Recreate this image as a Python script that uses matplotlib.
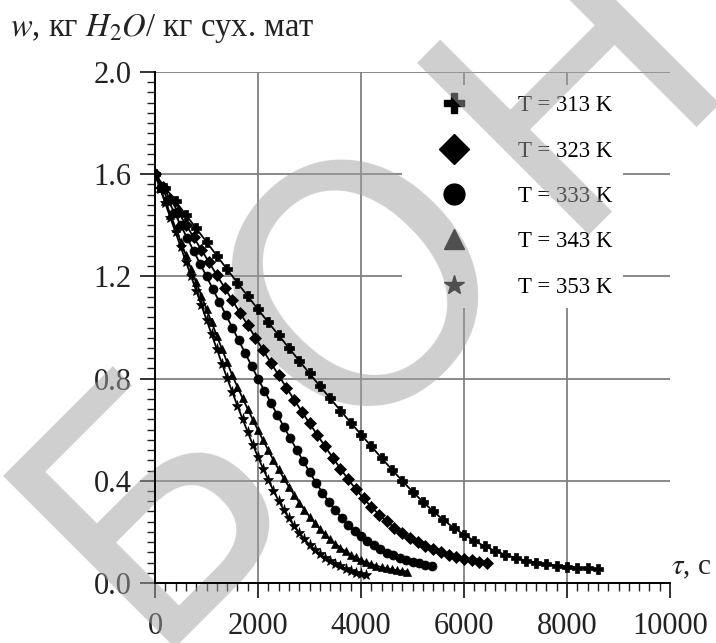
import numpy as np
import matplotlib
matplotlib.use("Agg")
import matplotlib.pyplot as plt
from matplotlib.lines import Line2D

plt.rcParams['font.family'] = ['Liberation Serif', 'DejaVu Serif']
plt.rcParams['mathtext.fontset'] = 'stix'

# drying curves, moisture w at each marker
t_313 = np.arange(0, 8601, 200)
w_313 = [1.600, 1.547, 1.494, 1.441, 1.388, 1.335, 1.281, 1.228, 1.175, 1.123,
         1.071, 1.020, 0.970, 0.920, 0.870, 0.820, 0.771, 0.723, 0.675, 0.628,
         0.581, 0.535, 0.489, 0.444, 0.400, 0.358, 0.318, 0.281, 0.247, 0.216,
         0.189, 0.165, 0.144, 0.126, 0.111, 0.098, 0.088, 0.080, 0.073, 0.068,
         0.063, 0.060, 0.057, 0.055]

t_323 = np.arange(0, 6451, 150)
w_323 = [1.600, 1.551, 1.501, 1.452, 1.403, 1.353, 1.304, 1.255, 1.205, 1.156,
         1.107, 1.058, 1.009, 0.960, 0.911, 0.862, 0.813, 0.765, 0.718, 0.671,
         0.625, 0.580, 0.535, 0.491, 0.448, 0.406, 0.367, 0.331, 0.298, 0.268,
         0.241, 0.217, 0.196, 0.177, 0.160, 0.145, 0.132, 0.121, 0.111, 0.102,
         0.095, 0.089, 0.084, 0.080]

t_333 = np.arange(0, 5376, 125)
w_333 = [1.600, 1.550, 1.500, 1.450, 1.400, 1.350, 1.300, 1.250, 1.200, 1.150,
         1.100, 1.050, 1.000, 0.950, 0.900, 0.850, 0.800, 0.752, 0.705, 0.658,
         0.612, 0.567, 0.522, 0.478, 0.435, 0.393, 0.354, 0.318, 0.285, 0.255,
         0.228, 0.204, 0.183, 0.164, 0.147, 0.132, 0.119, 0.108, 0.098, 0.090,
         0.083, 0.077, 0.072, 0.068]

t_343 = np.arange(0, 4901, 100)
w_343 = [1.600, 1.547, 1.494, 1.442, 1.389, 1.336, 1.283, 1.230, 1.178, 1.125,
         1.072, 1.020, 0.968, 0.916, 0.864, 0.813, 0.768, 0.724, 0.681, 0.639,
         0.598, 0.558, 0.519, 0.481, 0.445, 0.410, 0.377, 0.345, 0.315, 0.287,
         0.260, 0.235, 0.212, 0.191, 0.172, 0.154, 0.138, 0.124, 0.111, 0.100,
         0.090, 0.081, 0.074, 0.067, 0.062, 0.057, 0.053, 0.050, 0.047, 0.045]

t_353 = np.arange(0, 4101, 100)
w_353 = [1.600, 1.543, 1.486, 1.429, 1.372, 1.315, 1.258, 1.201, 1.144, 1.087,
         1.030, 0.973, 0.916, 0.859, 0.802, 0.748, 0.694, 0.642, 0.591, 0.541,
         0.493, 0.447, 0.403, 0.361, 0.322, 0.286, 0.253, 0.223, 0.196, 0.172,
         0.150, 0.131, 0.114, 0.099, 0.086, 0.075, 0.065, 0.056, 0.048, 0.041,
         0.035, 0.030]

labels = ["T = 313 K", "T = 323 K", "T = 333 K", "T = 343 K", "T = 353 K"]
markers = ["P", "D", "o", "^", "*"]
series = [(t_313, w_313), (t_323, w_323), (t_333, w_333), (t_343, w_343), (t_353, w_353)]
msizes = [7, 6, 6.5, 6, 8]

fig = plt.figure(figsize=(7.16, 6.43), dpi=100)
ax = fig.add_axes([155/716, 1-583/643, 515/716, 511/643])

for (t, w), m, ms in zip(series, markers, msizes):
    ax.plot(t, w, color="black", lw=1.3, marker=m, ms=ms, mew=0.5, zorder=3)

ax.set_xlim(0, 10000)
ax.set_ylim(0, 2.0)
ax.set_xticks(np.arange(0, 10001, 2000))
ax.set_yticks(np.arange(0, 2.01, 0.4))
ax.set_xticks(np.arange(0, 10001, 200), minor=True)
ax.set_yticks(np.arange(0, 2.01, 0.04), minor=True)
ax.set_yticklabels(["0.0", "0.4", "0.8", "1.2", "1.6", "2.0"])
ax.set_axisbelow(True)
ax.grid(True, which="major", color="#808080", lw=1.3)
ax.xaxis.get_gridlines()[-1].set_visible(False)
ax.yaxis.get_gridlines()[0].set_visible(False)
ax.xaxis.get_gridlines()[0].set_visible(False)

ax.spines["right"].set_visible(False)
ax.spines["top"].set_visible(False)
ax.spines["left"].set_linewidth(1.4)
ax.spines["bottom"].set_linewidth(1.4)
ax.tick_params(which="major", direction="out", length=11, width=1.3, labelsize=22, pad=6, colors="#222222")
ax.tick_params(which="minor", direction="out", length=6, width=1.0, colors="#222222")
ax.tick_params(axis="x", pad=10)

fig.text(10/716, 1-36/643, r"$w$, кг $H_2O$/ кг сух. мат", fontsize=23.5, va="baseline", color="#222222")
fig.text(671/716, 1-568/643, r"$\tau$, с", fontsize=21, va="center", color="#222222")

handles = [Line2D([], [], color="black", marker=m, ls="none", ms=15) for m in markers]
leg = ax.legend(handles, labels, loc="upper left", bbox_to_anchor=(402/716, 1-85/643),
                bbox_transform=fig.transFigure, fontsize=16.5, frameon=True,
                facecolor="white", edgecolor="none", framealpha=1, fancybox=False,
                borderpad=0.45, labelspacing=1.06, handlelength=3.6, handletextpad=1.03,
                borderaxespad=0)
leg.set_zorder(1)

# watermark letters (pixel centres on the page)
for ch, (px, py) in zip("БОН", [(158, 502), (370, 290), (579, 81)]):
    ax.text(px/716, 1-py/643, ch, transform=fig.transFigure, fontsize=240, rotation=45,
            ha="center", va="center", color="#a0a0a0", alpha=0.5, family="DejaVu Sans",
            clip_on=False, zorder=1.5)

fig.savefig("out.png", dpi=100)
